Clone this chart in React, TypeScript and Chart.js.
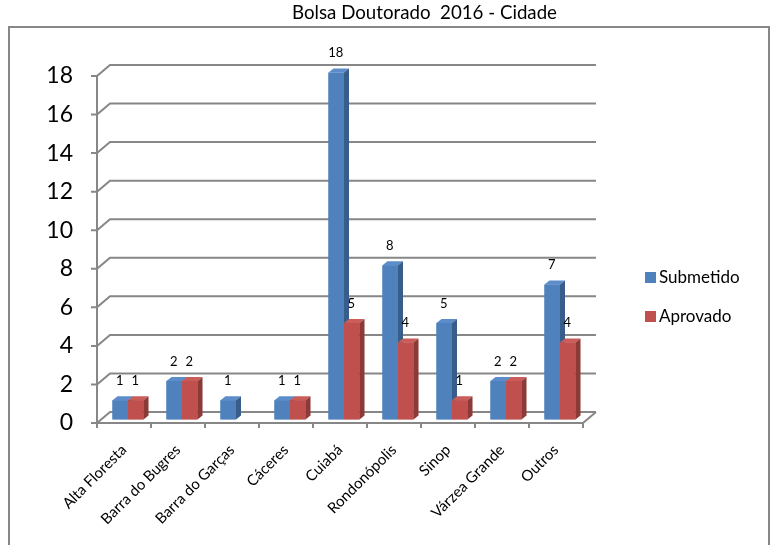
import React, { useEffect, useRef } from "react";
import { Chart, registerables } from "chart.js";

Chart.register(...registerables);

const TITLE = "Bolsa Doutorado  2016 - Cidade";
const categories = [
  "Alta Floresta",
  "Barra do Bugres",
  "Barra do Garças",
  "Cáceres",
  "Cuiabá",
  "Rondonópolis",
  "Sinop",
  "Várzea Grande",
  "Outros",
];
const seriesNames = ["Submetido", "Aprovado"];
const submetido = [1, 2, 1, 1, 18, 8, 5, 2, 7];
const aprovado = [1, 2, null, 1, 5, 4, 1, 2, 4];
const yMin = 0;
const yMax = 18;
const yStep = 2;

const FONT = "Lato, 'Open Sans', sans-serif";
const FRONT = ["#4F81BD", "#C0504D"];
const SIDE = ["#385D8A", "#8C3A38"];
const TOP = ["#5D8CCA", "#CA5D5A"];
const GRID = "#878787";

const WALL_DX = 13;
const WALL_DY = -11;
const BAR_DX = 4;
const BAR_DY = -3.5;
const DEPTH_X = 5;
const DEPTH_Y = -4;

const excel3d = {
  id: "excel3d",
  beforeDraw(chart: any) {
    const { ctx, chartArea: a, scales } = chart;
    const ys = scales.y;
    const xs = scales.x;
    ctx.save();
    ctx.fillStyle = "#fff";
    ctx.fillRect(0, 0, chart.width, chart.height);
    ctx.strokeStyle = GRID;
    ctx.lineWidth = 2;
    ctx.strokeRect(9, 27, 760, 540);
    ys.ticks.forEach((t: any) => {
      const py = ys.getPixelForValue(t.value);
      ctx.beginPath();
      ctx.moveTo(a.left - 6, py);
      ctx.lineTo(a.left, py);
      ctx.lineTo(a.left + WALL_DX, py + WALL_DY);
      ctx.lineTo(a.right + WALL_DX, py + WALL_DY);
      ctx.stroke();
    });
    ctx.beginPath();
    ctx.moveTo(a.left, ys.getPixelForValue(yMax));
    ctx.lineTo(a.left, a.bottom);
    ctx.stroke();
    ctx.beginPath();
    ctx.moveTo(a.left, a.bottom);
    ctx.lineTo(a.right, a.bottom);
    ctx.lineTo(a.right + WALL_DX, a.bottom + WALL_DY);
    ctx.stroke();
    for (let i = 0; i <= categories.length; i++) {
      const px = Math.round(xs.getPixelForValue(i - 0.5));
      ctx.beginPath();
      ctx.moveTo(px, a.bottom);
      ctx.lineTo(px, a.bottom + 5);
      ctx.stroke();
    }
    ctx.restore();
  },
  beforeDatasetsDraw(chart: any) {
    chart.ctx.save();
    chart.ctx.translate(BAR_DX, BAR_DY);
  },
  afterDatasetsDraw(chart: any) {
    const ctx = chart.ctx;
    const metas = chart.data.datasets.map((_: any, i: number) => chart.getDatasetMeta(i));
    for (let i = 0; i < categories.length; i++) {
      metas.forEach((m: any, d: number) => {
        const v = chart.data.datasets[d].data[i];
        const el = m.data[i];
        if (v == null || !el) return;
        const { x, y, base, width } = el.getProps(["x", "y", "base", "width"], true);
        const l = x - width / 2;
        const r = x + width / 2;
        ctx.fillStyle = FRONT[d];
        ctx.fillRect(l, y, width, base - y);
        ctx.fillStyle = TOP[d];
        ctx.beginPath();
        ctx.moveTo(l, y);
        ctx.lineTo(l + DEPTH_X, y + DEPTH_Y);
        ctx.lineTo(r + DEPTH_X, y + DEPTH_Y);
        ctx.lineTo(r, y);
        ctx.closePath();
        ctx.fill();
        ctx.fillStyle = SIDE[d];
        ctx.beginPath();
        ctx.moveTo(r, y);
        ctx.lineTo(r + DEPTH_X, y + DEPTH_Y);
        ctx.lineTo(r + DEPTH_X, base + DEPTH_Y);
        ctx.lineTo(r, base);
        ctx.closePath();
        ctx.fill();
      });
    }
    ctx.fillStyle = "#000";
    ctx.font = `13px ${FONT}`;
    ctx.textAlign = "center";
    ctx.textBaseline = "middle";
    metas.forEach((m: any, d: number) => {
      m.data.forEach((el: any, i: number) => {
        const v = chart.data.datasets[d].data[i];
        if (v == null) return;
        const { x, y } = el.getProps(["x", "y"], true);
        ctx.fillText(String(v), x - 0.5, y - 19.5);
      });
    });
    ctx.restore();
  },
  afterDraw(chart: any) {
    const ctx = chart.ctx;
    ctx.save();
    ctx.fillStyle = "#000";
    ctx.textAlign = "center";
    ctx.textBaseline = "alphabetic";
    ctx.font = `18.7px ${FONT}`;
    ctx.fillText(TITLE, 424.5, 19);
    ctx.font = `17px ${FONT}`;
    ctx.textAlign = "left";
    ctx.textBaseline = "middle";
    const legendY = [278, 317];
    chart.data.datasets.forEach((ds: any, d: number) => {
      ctx.fillStyle = FRONT[d];
      ctx.fillRect(645, legendY[d] - 6, 11, 11);
      ctx.fillStyle = "#000";
      ctx.fillText(ds.label, 659, legendY[d]);
    });
    ctx.restore();
  },
};

export default function App() {
  const ref = useRef<HTMLCanvasElement>(null);
  useEffect(() => {
    if (!ref.current) return;
    const chart = new Chart(ref.current, {
      type: "bar",
      data: {
        labels: categories,
        datasets: [
          {
            label: seriesNames[0],
            data: submetido,
            backgroundColor: FRONT[0],
            barPercentage: 1,
            categoryPercentage: 0.575,
          },
          {
            label: seriesNames[1],
            data: aprovado,
            backgroundColor: FRONT[1],
            barPercentage: 1,
            categoryPercentage: 0.575,
          },
        ],
      },
      options: {
        animation: false,
        responsive: false,
        devicePixelRatio: 1,
        layout: { padding: { top: 76, right: 188, left: 0, bottom: 0 } },
        plugins: {
          legend: { display: false },
          title: { display: false },
          tooltip: { enabled: false },
        },
        scales: {
          x: {
            offset: true,
            grid: { display: false, drawTicks: false },
            border: { display: false },
            ticks: {
              color: "#000",
              font: { family: FONT, size: 15 },
              maxRotation: 45,
              minRotation: 45,
              autoSkip: false,
              padding: 18,
            },
            afterFit: (s: any) => {
              s.height = 122;
            },
          },
          y: {
            min: yMin,
            max: yMax,
            grid: { display: false, drawTicks: false },
            border: { display: false },
            ticks: {
              stepSize: yStep,
              color: "#000",
              font: { family: FONT, size: 23 },
              padding: 24,
            },
            afterFit: (s: any) => {
              s.width = 97;
            },
          },
        },
      },
      plugins: [excel3d],
    });
    return () => chart.destroy();
  }, []);
  return (
    <div style={{ position: "absolute", left: 0, top: 0, width: 771, height: 545 }}>
      <canvas ref={ref} width={771} height={545} style={{ display: "block" }} />
    </div>
  );
}
